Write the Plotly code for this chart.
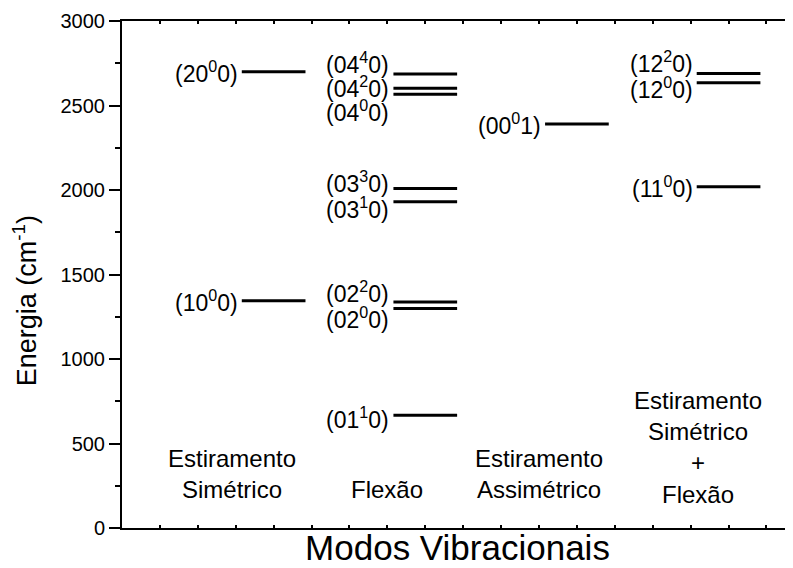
import plotly.graph_objects as go

# energy levels (cm^-1) per vibrational mode column
col_names = ["Estiramento<br>Simétrico", "Flexão", "Estiramento<br>Assimétrico",
             "Estiramento<br>Simétrico<br>+<br>Flexão"]

sim_labels = ["(10<sup>0</sup>0)", "(20<sup>0</sup>0)"]
sim_energy = [1345, 2700]

flex_labels = ["(01<sup>1</sup>0)", "(02<sup>0</sup>0)", "(02<sup>2</sup>0)", "(03<sup>1</sup>0)",
               "(03<sup>3</sup>0)", "(04<sup>0</sup>0)", "(04<sup>2</sup>0)", "(04<sup>4</sup>0)"]
flex_energy = [667, 1299, 1338, 1930, 2009, 2566, 2602, 2686]

assim_labels = ["(00<sup>0</sup>1)"]
assim_energy = [2390]

comb_labels = ["(11<sup>0</sup>0)", "(12<sup>0</sup>0)", "(12<sup>2</sup>0)"]
comb_energy = [2019, 2635, 2690]

# layout helpers (positions only)
col_x = [4, 8, 12, 16]
half_w = 0.84
label_dy = [[0, 0],
            [-15, -57, 59, -37, 40, -99, 7, 65],
            [0],
            [0, -33, 69]]
name_pos = [(2.9, 318), (7.0, 229), (11.0, 318), (15.2, 478)]

groups = [(sim_labels, sim_energy), (flex_labels, flex_energy),
          (assim_labels, assim_energy), (comb_labels, comb_energy)]

FONT = "Liberation Sans, Arial, sans-serif"

fig = go.Figure()
xs, ys = [], []
annotations = []
for i, (labs, ens) in enumerate(groups):
    c = col_x[i]
    for j, (lab, e) in enumerate(zip(labs, ens)):
        xs += [c - half_w, c + half_w, None]
        ys += [e, e, None]
        annotations.append(dict(x=c - half_w, y=e + label_dy[i][j], text=lab,
                                xanchor="right", yanchor="middle", xshift=-2,
                                showarrow=False, font=dict(size=23, color="black")))
    nx, ny = name_pos[i]
    annotations.append(dict(x=nx, y=ny, text=col_names[i], xanchor="center",
                            yanchor="middle", showarrow=False,
                            font=dict(size=24, color="black")))

fig.add_trace(go.Scatter(x=xs, y=ys, mode="lines",
                         line=dict(color="black", width=3), hoverinfo="skip"))

annotations.append(dict(x=-0.1446, y=0.449, xref="paper", yref="paper",
                        xanchor="center", yanchor="middle",
                        text="Energia (cm<sup>-1</sup>)", textangle=-90,
                        showarrow=False, font=dict(size=27, color="black")))

# page body has an 8px margin, so the figure is 8px smaller to fit the window
fig.update_layout(
    width=785, height=560,
    margin=dict(l=114, r=0, t=13, b=40),
    plot_bgcolor="white", paper_bgcolor="white",
    showlegend=False,
    font=dict(family=FONT, color="black"),
    annotations=annotations,
)
fig.update_xaxes(range=[0, 17.7], dtick=1, tick0=0, ticks="inside", ticklen=3,
                 tickwidth=2, tickcolor="black", showticklabels=False,
                 showline=True, linecolor="black", linewidth=2, mirror="ticks",
                 showgrid=False, zeroline=False, automargin=False,
                 title=dict(text="Modos Vibracionais", font=dict(size=35), standoff=6))
fig.update_yaxes(range=[0, 3000], dtick=500, ticks="outside", ticklen=11,
                 tickwidth=2, tickcolor="black", tickfont=dict(size=20),
                 showline=True, linecolor="black", linewidth=2,
                 showgrid=False, zeroline=False, automargin=False,
                 minor=dict(dtick=250, ticks="outside", ticklen=5, tickwidth=2,
                            tickcolor="black"))

fig.write_html("out.html")
